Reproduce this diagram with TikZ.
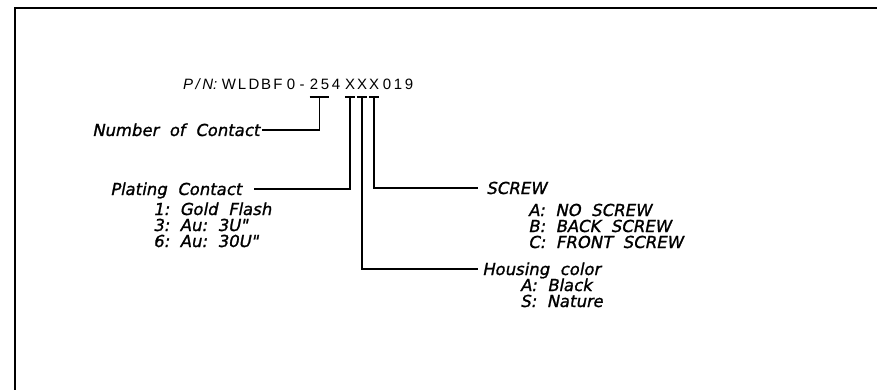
\documentclass[tikz,border=0pt]{standalone}
\usepackage{fontspec}
\setmainfont{DejaVu Sans}
\newfontfamily\lblfont[FakeBold=1.2,FakeSlant=0.2]{DejaVu Sans}
\newfontfamily\pnfont{Liberation Sans}
\usetikzlibrary{positioning,calc}

\begin{document}
\begin{tikzpicture}[x=1pt, y=-1pt,
    lbl/.style={font=\lblfont\fontsize{16.5}{16}\selectfont, inner sep=0pt, anchor=base west, text height=12pt, text depth=0pt},
    chr/.style={font=\pnfont\fontsize{15}{15}\selectfont, inner sep=0pt, anchor=base},
    lead/.style={line width=1.6pt}]

    \fill[white] (0,0) rectangle (877,390);
    \useasboundingbox (0,0) rectangle (877,390);
    \draw[line width=1.8pt] (15,390) -- (15,8) -- (877,8);

    % numero di parte
    \node[chr, anchor=base west, font=\pnfont\itshape\fontsize{15}{15}\selectfont] (pn) at (183,90) {P\,/\,N:};
    \foreach \x/\c/\n in {229/W/w, 242/L/l, 254/D/d, 266/B/b, 278/F/f, 291/0/z, 302/{-}/dash,
        314/2/two, 325/5/five, 336/4/four, 350/X/xa, 362/X/xb, 374/X/xc, 387/0/za, 398/1/one, 409/9/nine}
        \node[chr] (\n) at (\x,90) {\c};

    \coordinate (ul) at (0,97);
    \coordinate (m25) at ($(two.base)!0.5!(five.base)$);

    % etichette
    \node[lbl] (noc) at (92,136) {Number~~of~~Contact};
    \node[lbl] (plc) at (110,195) {Plating~~Contact};
    \foreach \t [count=\i] in {1:~~Gold~~Flash, 3:~~Au:~~3U", 6:~~Au:~~30U"}
        \node[lbl] (plc\i) at (153,199+16*\i) {\t};
    \node[lbl] (scr) at (486,194) {SCREW};
    \foreach \t [count=\i] in {A:~~NO~~SCREW, B:~~BACK~~SCREW, C:~~FRONT~~SCREW}
        \node[lbl] (scr\i) at (528,200+16*\i) {\t};
    \node[lbl] (hsg) at (482,275) {Housing~~color};
    \foreach \t [count=\i] in {A:~~Black, S:~~Nature}
        \node[lbl] (hsg\i) at (520,275+16*\i) {\t};

    % sottolineature
    \draw[lead] (two.west |- ul) -- (five.east |- ul);
    \foreach \n in {xa, xb, xc}
        \draw[lead] (\n.west |- ul) -- (\n.east |- ul);

    % linee di richiamo
    \draw[lead] (m25 |- ul) |- ([xshift=2pt]noc.east);
    \draw[lead] (xa.base |- ul) |- ([xshift=12pt]plc.east);
    \draw[lead] (xb.base |- ul) |- ([xshift=-4pt]hsg.west);
    \draw[lead] (xc.base |- ul) |- ([xshift=-8pt]scr.west);

\end{tikzpicture}
\end{document}
